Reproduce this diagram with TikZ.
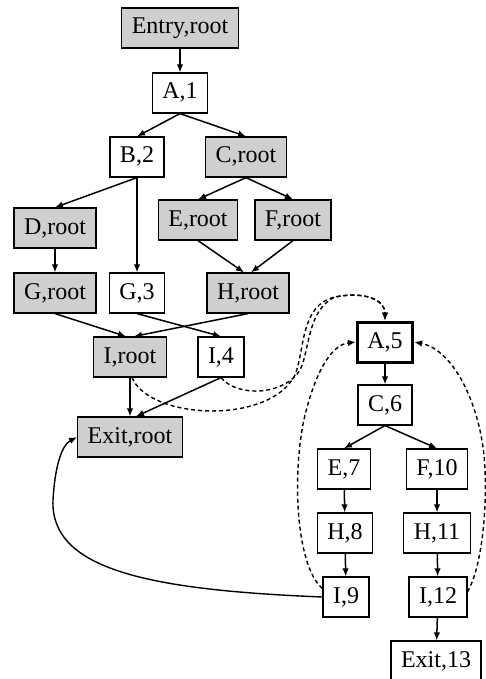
\documentclass[tikz,border=0pt]{standalone}
\usepackage{fontspec}
\setmainfont{Liberation Serif}
\usetikzlibrary{arrows.meta}
\begin{document}
\begin{tikzpicture}[x=1pt,y=-1pt,
  blk/.style={draw, line width=1.2pt, inner xsep=10pt, inner ysep=9pt,
    text height=17pt, text depth=5pt, font=\fontsize{24}{28}\selectfont},
  rootblk/.style={blk, fill=black!19},
  hdr/.style={blk, line width=3pt},
  flow/.style={line width=1.5pt, -{Latex[length=8pt,width=6.5pt]}},
  backedge/.style={line width=1.4pt, dash pattern=on 4pt off 3pt,
    -{Latex[length=8pt,width=6.5pt]}},
  jump/.style={line width=1.4pt, -{Latex[length=8pt,width=6.5pt]}},
]
\useasboundingbox (0,0) rectangle (485,679);

% original graph
\node[rootblk] (entry) at (180,28) {Entry,root};
\node[blk] (a1) at (180,93) {A,1};
\node[blk] (b2) at (137,157) {B,2};
\node[rootblk] (croot) at (246,157) {C,root};
\node[rootblk] (droot) at (55,228) {D,root};
\node[rootblk] (eroot) at (198,220) {E,root};
\node[rootblk] (froot) at (293,220) {F,root};
\node[rootblk] (groot) at (55,293) {G,root};
\node[blk] (g3) at (137,293) {G,3};
\node[rootblk] (hroot) at (248,293) {H,root};
\node[rootblk] (iroot) at (130,357) {I,root};
\node[blk] (i4) at (221,357) {I,4};
\node[rootblk] (exitroot) at (130,437) {Exit,root};

% cloned region
\node[hdr] (a5) at (385,342) {A,5};
\node[blk] (c6) at (385,405) {C,6};
\node[blk] (e7) at (344,469) {E,7};
\node[blk] (f10) at (437,469) {F,10};
\node[blk] (h8) at (345,533) {H,8};
\node[blk] (h11) at (437,533) {H,11};
\node[blk] (i9) at (346,597) {I,9};
\node[blk] (i12) at (438,597) {I,12};
\node[blk] (exit13) at (436,661) {Exit,13};

% edges
\draw[flow] (entry) -- (a1);
\draw[flow] (a1.south) -- (b2.north);
\draw[flow] (a1.south) -- (croot.north);
\draw[flow] (b2.south) -- (droot.north);
\draw[flow] (b2.south) -- (g3.north);
\draw[flow] (croot.south) -- (eroot.north);
\draw[flow] (croot.south) -- (froot.north);
\draw[flow] (droot) -- (groot);
\draw[flow] (eroot.south) -- ([xshift=-4pt]hroot.north);
\draw[flow] (froot.south) -- ([xshift=3pt]hroot.north);
\draw[flow] (groot.south) -- ([xshift=-4pt]iroot.north);
\draw[flow] (hroot.south) -- ([xshift=4pt]iroot.north);
\draw[flow] (g3.south) -- (i4.north);
\draw[flow] (iroot.south) -- (exitroot.north);
\draw[flow] (i4.south) -- ([xshift=6pt]exitroot.north);

\draw[flow] (a5) -- (c6);
\draw[flow] (c6.south) -- (e7.north);
\draw[flow] (c6.south) -- (f10.north);
\draw[flow] (e7) -- (h8);
\draw[flow] (h8) -- (i9);
\draw[flow] (f10) -- (h11);
\draw[flow] (h11) -- (i12);
\draw[flow] (i12) -- (exit13);

% redirected edges into the clone
\draw[backedge] ([xshift=2pt]iroot.south) .. controls (150,420) and (270,425) .. (295,375)
  .. controls (305,350) and (300,305) .. (335,297)
  .. controls (365,291) and (385,300) .. (a5.north);
\draw[backedge] (i4.south) .. controls (238,398) and (285,395) .. (300,370)
  .. controls (310,350) and (307,310) .. (335,297)
  .. controls (365,291) and (385,300) .. (a5.north);
\draw[backedge] (i9.160) .. controls (295,565) and (292,470) .. (305,415)
  .. controls (315,375) and (330,345) .. (a5.west);
\draw[backedge] (i12.10) .. controls (480,570) and (487,520) .. (485,470)
  .. controls (483,410) and (455,350) .. (a5.east);

% exit from the clone
\draw[jump] (i9.west) .. controls (150,590) and (50,570) .. (53,500)
  .. controls (55,465) and (62,445) .. (exitroot.west);
\end{tikzpicture}
\end{document}
